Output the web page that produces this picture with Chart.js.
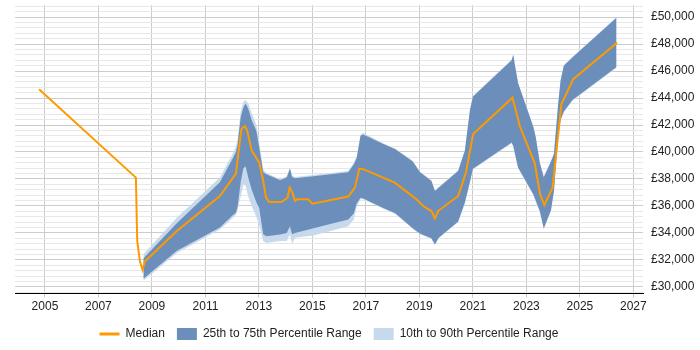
<!DOCTYPE html>
<html>
<head>
<meta charset="utf-8">
<script src="https://cdn.jsdelivr.net/npm/chart.js@4"></script>
<style>
  html, body { margin: 0; padding: 0; background: #fff; }
  canvas { display: block; }
</style>
</head>
<body>
<canvas id="canvas" width="700" height="350"></canvas>
<script>
// median pay line
const medianYears = [2004.78, 2008.40, 2008.45, 2008.55, 2008.65, 2008.74, 2009.92, 2011.54, 2012.14, 2012.26,
    2012.35, 2012.48, 2012.56, 2012.73, 2012.89, 2013.01, 2013.16, 2013.26, 2013.38, 2013.84,
    2014.07, 2014.15, 2014.25, 2014.35, 2014.43, 2014.84, 2015.00, 2016.34, 2016.59, 2016.75,
    2016.90, 2018.08, 2018.89, 2019.14, 2019.45, 2019.58, 2019.70, 2020.45, 2020.74, 2021.01,
    2022.48, 2022.57, 2022.76, 2023.32, 2023.51, 2023.67, 2023.98, 2024.25, 2024.31, 2024.44,
    2024.75, 2026.39];
const medianPay = [44650, 38100, 33400, 31900, 31250, 31900, 34130, 36740, 38400, 40340,
    41720, 41910, 41590, 40100, 39600, 39230, 37860, 36660, 36290, 36290,
    36610, 37360, 36990, 36370, 36490, 36490, 36160, 36700, 37360, 38750,
    38730, 37730, 36490, 35990, 35620, 35080, 35620, 36740, 38480, 41340,
    44030, 43330, 41890, 39100, 36870, 36070, 37360, 42460, 43580, 44080,
    45400, 48100];

// percentile bands share these years
const bandYears = [2008.68, 2009.92, 2011.54, 2012.04, 2012.14, 2012.20, 2012.32, 2012.42, 2012.50, 2012.60,
    2012.73, 2012.90, 2013.01, 2013.16, 2013.28, 2013.79, 2014.04, 2014.16, 2014.24, 2014.35,
    2015.04, 2016.34, 2016.55, 2016.66, 2016.80, 2016.90, 2017.65, 2018.10, 2018.75, 2019.02,
    2019.45, 2019.58, 2019.72, 2020.45, 2020.70, 2020.89, 2021.00, 2022.45, 2022.51, 2022.57,
    2022.69, 2023.26, 2023.35, 2023.50, 2023.65, 2023.92, 2024.03, 2024.19, 2024.28, 2024.40,
    2024.72, 2026.37];
const p75 = [32100, 34700, 37750, 39600, 40000, 40500, 42600, 43300, 43600, 43200,
    42350, 41600, 40350, 38500, 38350, 37900, 38100, 38750, 38150, 38050,
    38200, 38500, 39100, 39600, 41200, 41300, 40600, 40200, 39300, 38500,
    37850, 37100, 37350, 38600, 40100, 43100, 44100, 46800, 47200, 46450,
    45100, 41850, 41100, 39200, 38100, 39300, 39850, 43600, 45300, 46400,
    47000, 49950];
const p25 = [30600, 32650, 34400, 35350, 35500, 35900, 37800, 38800, 38950, 38100,
    37200, 36300, 35850, 33900, 33750, 33880, 34000, 34500, 33900, 34000,
    34350, 35000, 35450, 36200, 36600, 36550, 35850, 35450, 34350, 33950,
    33600, 33150, 33650, 34850, 36250, 37800, 38750, 40700, 40450, 39900,
    38850, 36870, 36400, 35650, 34350, 35700, 37100, 41200, 42400, 43000,
    43850, 46300];
const p90 = [32400, 35100, 38100, 39950, 40400, 40900, 43000, 43700, 43850, 43600,
    42900, 42000, 40750, 38700, 38450, 38000, 38200, 38850, 38250, 38150,
    38300, 38600, 39200, 39700, 41300, 41400, 40650, 40250, 39350, 38550,
    37900, 37150, 37400, 38650, 40150, 43150, 44150, 46850, 47250, 46500,
    45150, 41900, 41150, 39250, 38200, 39350, 39900, 43650, 45350, 46450,
    47050, 50000];
const p10 = [30450, 32500, 34250, 35150, 35350, 35700, 36700, 37600, 37500, 36700,
    36000, 35200, 34600, 33400, 33250, 33400, 33400, 33900, 33200, 33650,
    33800, 34500, 35000, 36000, 36500, 36500, 35800, 35400, 34300, 33900,
    33550, 33100, 33600, 34800, 36200, 37750, 38700, 40650, 40400, 39850,
    38800, 36800, 36300, 35550, 34250, 35600, 37050, 41150, 42350, 42950,
    43800, 46250];

const xTicks = [2005, 2007, 2009, 2011, 2013, 2015, 2017, 2019, 2021, 2023, 2025, 2027];

const toPoints = (xs, ys) => xs.map((x, i) => ({x: x, y: ys[i]}));

const darkBand = '#6b8fba';
const lightBand = '#c7d9ec';
const orange = '#ff9900';

Chart.defaults.font.family = '"Liberation Sans", Arial, sans-serif';
Chart.defaults.font.size = 12;
Chart.defaults.color = '#222';

const bandLine = {
    borderWidth: 0,
    borderColor: 'rgba(0,0,0,0)',
    pointRadius: 0,
    pointHoverRadius: 0,
    tension: 0
};

const ctx = document.getElementById('canvas').getContext('2d');
new Chart(ctx, {
    type: 'line',
    data: {
        datasets: [
            {
                label: 'Median',
                data: toPoints(medianYears, medianPay),
                borderColor: orange,
                backgroundColor: orange,
                borderWidth: 2,
                pointRadius: 0,
                fill: false,
                pointStyle: 'line',
                tension: 0
            },
            Object.assign({
                label: '25th to 75th Percentile Range',
                data: toPoints(bandYears, p75),
                backgroundColor: darkBand,
                fill: '+1',
                pointStyle: 'rect'
            }, bandLine),
            Object.assign({
                label: 'p25',
                data: toPoints(bandYears, p25),
                backgroundColor: darkBand,
                fill: false
            }, bandLine),
            Object.assign({
                label: '10th to 90th Percentile Range',
                data: toPoints(bandYears, p90),
                backgroundColor: lightBand,
                fill: '+1',
                pointStyle: 'rect'
            }, bandLine),
            Object.assign({
                label: 'p10',
                data: toPoints(bandYears, p10),
                backgroundColor: lightBand,
                fill: false
            }, bandLine)
        ]
    },
    options: {
        responsive: false,
        animation: false,
        maintainAspectRatio: false,
        layout: { padding: { top: 5, left: 15, right: 0, bottom: 0 } },
        plugins: {
            tooltip: { enabled: false },
            legend: {
                position: 'bottom',
                fullSize: false,
                labels: {
                    usePointStyle: true,
                    pointStyleWidth: 20,
                    boxHeight: 12,
                    padding: 12,
                    color: '#222',
                    filter: (item) => item.text !== 'p25' && item.text !== 'p10',
                    generateLabels: (chart) => {
                        const items = Chart.defaults.plugins.legend.labels.generateLabels(chart);
                        items.forEach(it => { if (it.text === 'Median') it.lineWidth = 3; });
                        return items;
                    }
                }
            }
        },
        scales: {
            x: {
                type: 'linear',
                min: 2003.88,
                max: 2027.36,
                afterBuildTicks: (axis) => {
                    axis.ticks = xTicks.map(v => ({value: v}));
                },
                afterFit: (axis) => {
                    axis.paddingRight = 0;
                },
                ticks: {
                    autoSkip: false,
                    maxRotation: 0,
                    padding: 2,
                    callback: (v) => String(v)
                },
                grid: {
                    color: '#cccccc',
                    tickLength: 4
                },
                border: { color: '#000', width: 1 }
            },
            y: {
                position: 'right',
                min: 29500,
                max: 50900,
                afterBuildTicks: (axis) => {
                    const t = [];
                    for (let v = 29600; v <= 50800; v += 400) t.push({value: v});
                    axis.ticks = t;
                },
                afterFit: (axis) => {
                    axis.width = 57;
                    axis.paddingTop = 0;
                    axis.paddingBottom = 0;
                },
                ticks: {
                    autoSkip: false,
                    padding: 8,
                    callback: (v) => v % 2000 === 0 ? '£' + v.toLocaleString('en-GB') : ''
                },
                grid: {
                    drawTicks: false,
                    color: (c) => (c.tick && c.tick.value % 2000 === 0) ? '#cccccc' : '#e8e8e8'
                },
                border: { display: false }
            }
        }
    }
});
</script>
</body>
</html>
